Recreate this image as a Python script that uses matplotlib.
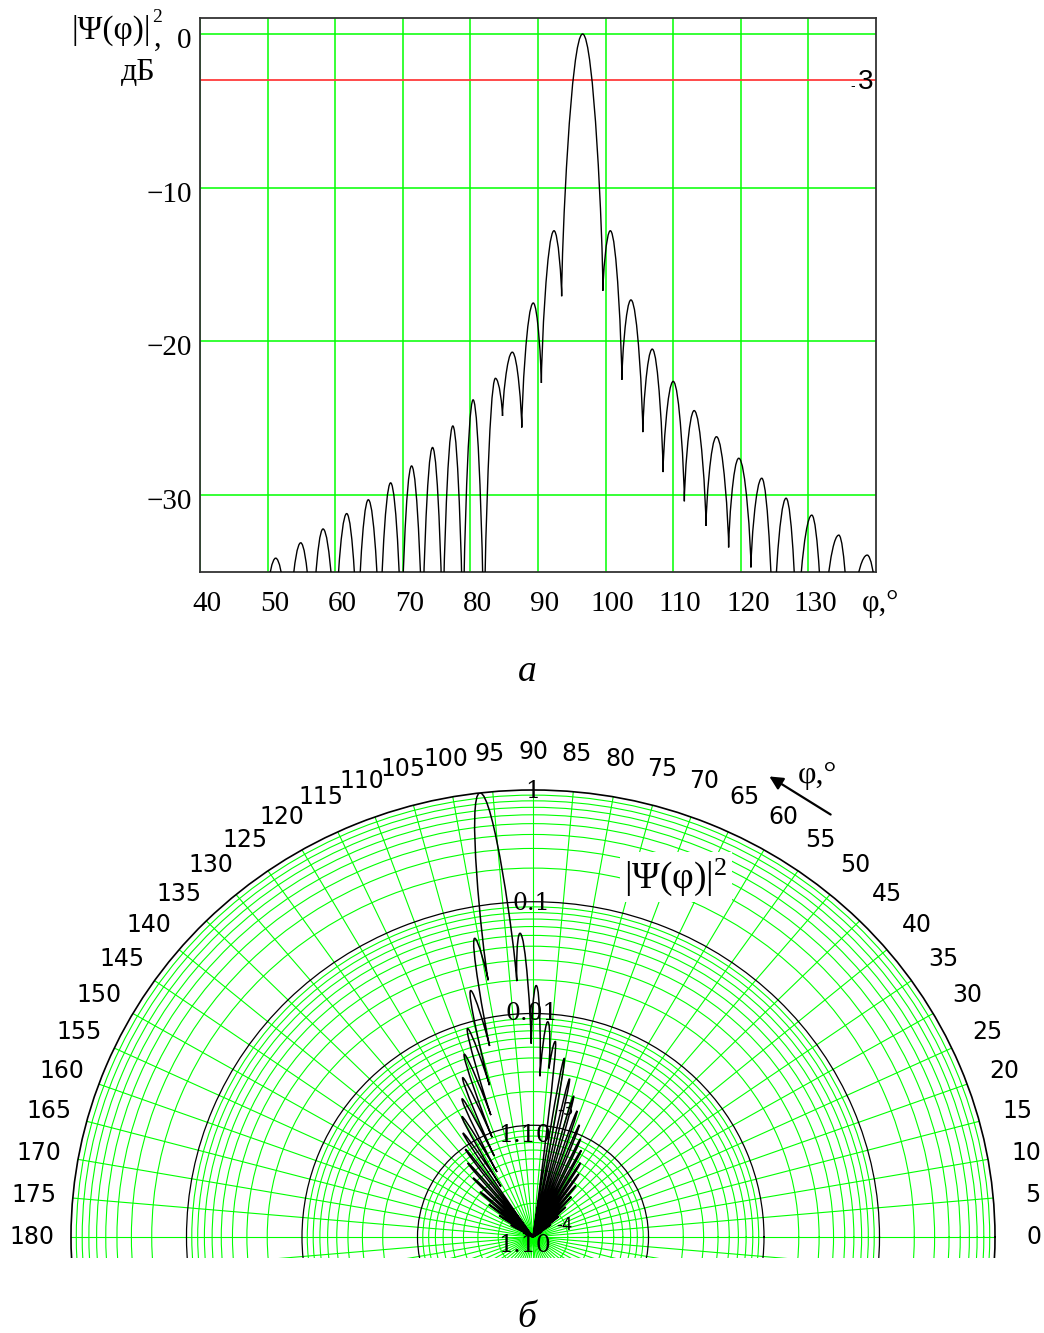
import numpy as np
import matplotlib
matplotlib.use("Agg")
import matplotlib.pyplot as plt
from matplotlib.path import Path
from matplotlib.patches import PathPatch, Rectangle
from matplotlib.transforms import offset_copy

plt.rcParams['font.family'] = ['Liberation Serif', 'DejaVu Serif']
plt.rcParams['mathtext.fontset'] = 'custom'
plt.rcParams['mathtext.rm'] = 'Liberation Serif'
plt.rcParams['mathtext.it'] = 'Liberation Serif:italic'

# ---------------- data ----------------
# pattern |Psi(phi)|^2 in dB: nulls and lobe maxima, ordered by angle
null_phi = [28.8, 33.2, 37.4, 41.5, 45.4, 49.3, 53.1, 56.6, 60.0, 63.3, 66.6,
            69.8, 72.9, 75.9, 78.9, 82.0, 84.75, 87.6, 90.5, 93.5, 99.6, 102.4,
            105.5, 108.5, 111.65, 114.85, 118.2, 121.5, 124.8, 128.3, 132.1,
            136.0, 140.6, 144.6, 148.8, 153.2, 158.0]
null_db = [-40, -40, -40, -40, -40, -40, -40, -40, -40, -40, -40,
           -40, -40, -40, -40, -40, -24.85, -25.6, -22.7, -17.06, -16.7, -22.5,
           -25.9, -28.5, -30.4, -32.0, -33.4, -34.7, -40, -40, -40,
           -40, -40, -40, -40, -40, -40]
peak_phi = [31.0, 35.3, 39.5, 43.5, 47.4, 51.2, 54.9, 58.2, 61.7, 64.9, 68.2,
            71.3, 74.4, 77.4, 80.4, 83.7, 86.2, 89.3, 92.37, 96.6, 100.7, 103.75,
            106.9, 110.0, 113.1, 116.4, 119.7, 123.1, 126.7, 130.5, 134.5, 138.7,
            142.6, 146.7, 151.0, 155.5]
peak_db = [-39.1, -38.1, -37.1, -36.1, -35.1, -34.1, -33.1, -32.2, -31.2, -30.3, -29.2,
           -28.1, -26.9, -25.5, -23.8, -22.4, -20.7, -17.5, -12.8, 0.0, -12.8, -17.3,
           -20.5, -22.6, -24.5, -26.2, -27.6, -28.9, -30.2, -31.3, -32.6, -33.9,
           -35.2, -36.5, -37.8, -39.1]
level_3db = -3

x_ticks = [40, 50, 60, 70, 80, 90, 100, 110, 120, 130]
x_ticklabels = ['40', '50', '60', '70', '80', '90', '100', '110', '120', '130']
y_ticks = [0, -10, -20, -30]
y_ticklabels = ['0', '\u221210', '\u221220', '\u221230']

polar_angles = [0, 5, 10, 15, 20, 25, 30, 35, 40, 45, 50, 55, 60, 65, 70, 75, 80, 85,
                90, 95, 100, 105, 110, 115, 120, 125, 130, 135, 140, 145, 150, 155,
                160, 165, 170, 175, 180]
polar_floor_db = -40

W, H = 1044, 1333


def P(x, y):
    return (x / W, 1 - y / H)


# lobe profile (style): horizontal tangent at a maximum, steep into a null
A_FRAC, C_FRAC = 0.55, 0.2


def lobe_path(to_xy):
    verts = [to_xy(null_phi[0], null_db[0])]
    codes = [Path.MOVETO]
    for i, (xp, yp) in enumerate(zip(peak_phi, peak_db)):
        xa, ya = null_phi[i], null_db[i]
        xb, yb = null_phi[i + 1], null_db[i + 1]
        verts += [to_xy(xa, ya + C_FRAC * (yp - ya)),
                  to_xy(xp + A_FRAC * (xa - xp), yp),
                  to_xy(xp, yp)]
        verts += [to_xy(xp + A_FRAC * (xb - xp), yp),
                  to_xy(xb, yb + C_FRAC * (yp - yb)),
                  to_xy(xb, yb)]
        codes += [Path.CURVE4] * 6
    return Path(verts, codes)


fig = plt.figure(figsize=(W / 100, H / 100), dpi=100)
fig.patch.set_facecolor('white')

# ---------------- (a) Cartesian pattern in dB ----------------
ax1 = fig.add_axes([200 / W, 1 - 572 / H, 676 / W, 554 / H])
ax1.set_xlim(40, 140)
ax1.set_ylim(-35, 1.04)
ax1.add_patch(PathPatch(lobe_path(lambda x, y: (x, y)), fill=False,
                        edgecolor='black', lw=1.0, zorder=3))
ax1.axhline(level_3db, color='#ff3c3c', lw=1.3, zorder=2)
ax1.set_xticks(x_ticks)
ax1.set_xticklabels([])
ax1.set_yticks(y_ticks)
ax1.set_yticklabels(y_ticklabels, fontsize=21)
ax1.grid(True, color='#00ff00', lw=1.1)
ax1.tick_params(length=0, pad=6)
yt_off = offset_copy(ax1.get_yaxis_transform(), fig=fig, x=0, y=-4, units='dots')
for lbl in ax1.get_yticklabels():
    lbl.set_transform(lbl.get_transform() + matplotlib.transforms.ScaledTranslation(0, -4 / 100, fig.dpi_scale_trans))
for sp in ax1.spines.values():
    sp.set_color('#333333')
    sp.set_linewidth(1.3)

xt = offset_copy(ax1.get_xaxis_transform(), fig=fig, x=7, y=0, units='dots')
for v, s in zip(x_ticks, x_ticklabels):
    ax1.text(v, -0.058, s, transform=xt, ha='center', va='center', fontsize=21)

fig.text(*P(151, 30), '|\u03a8(\u03c6)|', ha='right', va='center', fontsize=24)
fig.text(*P(157, 17), '2', ha='center', va='center', fontsize=14)
fig.text(*P(158, 38), ',', ha='center', va='center', fontsize=22)
fig.text(*P(138, 72), '\u0434\u0411', ha='center', va='center', fontsize=23)
fig.text(*P(866, 82), '3', family='Liberation Sans', fontsize=20, ha='center', va='center')
fig.text(*P(853, 86), '-', family='Liberation Sans', fontsize=10, ha='center', va='center')
fig.text(*P(881, 604), '\u03c6,\u00b0', ha='center', va='center', fontsize=22)
fig.text(*P(527, 672), '\u0430', style='italic', ha='center', va='center', fontsize=27)

# ---------------- (б) polar pattern, log radial scale ----------------
axp = fig.add_axes([71 / W, 1 - 1684 / H, 924 / W, 894 / H], projection='polar')
axp.set_aspect('auto')
axp.set_ylim(0, -polar_floor_db)
axp.set_xticks(np.deg2rad(np.arange(0, 360, 5)))
axp.set_xticklabels([])
axp.set_yticks([10, 20, 30])
axp.set_yticks([10 * j + 10 * np.log10(k) for j in range(4) for k in range(2, 10)], minor=True)
axp.set_yticklabels([])
axp.set_yticklabels([], minor=True)
axp.xaxis.grid(True, which='major', color='#00ff00', lw=0.8)
axp.yaxis.grid(True, which='major', color='black', lw=0.9)
axp.yaxis.grid(True, which='minor', color='#00ff00', lw=0.8)
axp.tick_params(which='both', length=0)
axp.spines['polar'].set_edgecolor('black')
axp.spines['polar'].set_linewidth(1.2)
axp.add_patch(PathPatch(lobe_path(lambda x, y: (np.deg2rad(x), y - polar_floor_db)),
                        fill=False, edgecolor='black', lw=1.1, zorder=3))

for a in polar_angles:
    axp.text(np.deg2rad(a), 43.4, str(a), family='DejaVu Sans', fontsize=17,
             ha='center', va='center', clip_on=False)

fig.text(*P(533, 791), '1', family='DejaVu Serif', fontsize=17, ha='center', va='center')
fig.text(*P(531, 903), '0.1', family='DejaVu Serif', fontsize=17, ha='center', va='center')
fig.text(*P(532, 1013), '0.01', family='DejaVu Serif', fontsize=17, ha='center', va='center')
fig.text(*P(525, 1136), '1.10', family='DejaVu Serif', fontsize=17, ha='center', va='center')
fig.text(*P(566, 1110), '-3', family='DejaVu Sans', fontsize=12, ha='center', va='center')
fig.text(*P(525, 1245), '1.10', family='DejaVu Serif', fontsize=17, ha='center', va='center')
fig.text(*P(564, 1225), '-4', family='DejaVu Sans', fontsize=12, ha='center', va='center')

fig.text(*P(676, 877), '|\u03a8(\u03c6)|$^{\\mathrm{2}}$', fontsize=27, ha='center', va='center',
         bbox=dict(facecolor='white', edgecolor='none', pad=3))
fig.text(*P(817, 776), '\u03c6,\u00b0', fontsize=23, ha='center', va='center')
ax1.annotate('', xy=(767, H - 775), xytext=(833, H - 816),
             xycoords='figure pixels', textcoords='figure pixels',
             arrowprops=dict(arrowstyle='-|>', color='black', lw=1.6, mutation_scale=20),
             annotation_clip=False)

fig.add_artist(Rectangle((0, 0), 1, (H - 1258) / H, transform=fig.transFigure,
                         facecolor='white', edgecolor='none', zorder=5))
fig.text(*P(527, 1318), '\u0431', style='italic', ha='center', va='center',
         fontsize=27, zorder=6)

fig.savefig('out.png', dpi=100)
